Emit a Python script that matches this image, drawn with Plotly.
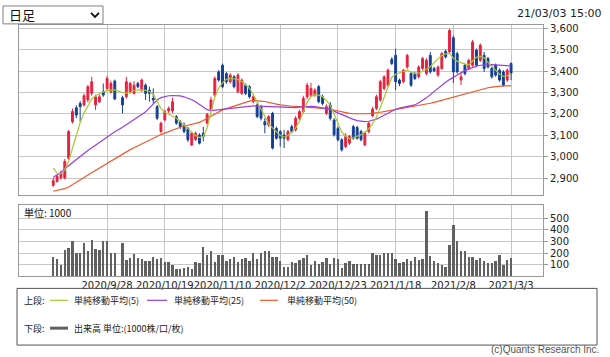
import plotly.graph_objects as go

# ---------------- data ----------------
dates = [
    "2020/9/4", "2020/9/7", "2020/9/8", "2020/9/9", "2020/9/10", "2020/9/11", "2020/9/14", "2020/9/15",
    "2020/9/16", "2020/9/17", "2020/9/18", "2020/9/23", "2020/9/24", "2020/9/25", "2020/9/28", "2020/9/29",
    "2020/9/30", "2020/10/1", "2020/10/2", "2020/10/5", "2020/10/6", "2020/10/7", "2020/10/8", "2020/10/9",
    "2020/10/12", "2020/10/13", "2020/10/14", "2020/10/15", "2020/10/16", "2020/10/19", "2020/10/20", "2020/10/21",
    "2020/10/22", "2020/10/23", "2020/10/26", "2020/10/27", "2020/10/28", "2020/10/29", "2020/10/30", "2020/11/2",
    "2020/11/4", "2020/11/5", "2020/11/6", "2020/11/9", "2020/11/10", "2020/11/11", "2020/11/12", "2020/11/13",
    "2020/11/16", "2020/11/17", "2020/11/18", "2020/11/19", "2020/11/20", "2020/11/24", "2020/11/25", "2020/11/26",
    "2020/11/27", "2020/11/30", "2020/12/1", "2020/12/2", "2020/12/3", "2020/12/4", "2020/12/7", "2020/12/8",
    "2020/12/9", "2020/12/10", "2020/12/11", "2020/12/14", "2020/12/15", "2020/12/16", "2020/12/17", "2020/12/18",
    "2020/12/21", "2020/12/22", "2020/12/23", "2020/12/24", "2020/12/25", "2020/12/28", "2020/12/29", "2020/12/30",
    "2021/1/4", "2021/1/5", "2021/1/6", "2021/1/7", "2021/1/8", "2021/1/12", "2021/1/13", "2021/1/14",
    "2021/1/15", "2021/1/18", "2021/1/19", "2021/1/20", "2021/1/21", "2021/1/22", "2021/1/25", "2021/1/26",
    "2021/1/27", "2021/1/28", "2021/1/29", "2021/2/1", "2021/2/2", "2021/2/3", "2021/2/4", "2021/2/5",
    "2021/2/8", "2021/2/9", "2021/2/10", "2021/2/12", "2021/2/15", "2021/2/16", "2021/2/17", "2021/2/18",
    "2021/2/19", "2021/2/22", "2021/2/24", "2021/2/25", "2021/2/26", "2021/3/1", "2021/3/2", "2021/3/3",
]

open_ = [2868, 2886, 2902, 2902, 2994, 3164, 3229, 3249, 3242, 3265, 3296, 3242, 3257, 3303, 3319, 3303,
         3353, None, 3276, 3280, 3303, 3296, 3342, 3311, 3334, 3311, 3273, 3234, 3118, 3172, 3214, 3214,
         3187, 3164, 3149, 3133, 3056, 3080, 3102, 3110, 3157, 3223, 3288, 3396, 3427, 3388, 3350, 3373,
         3303, 3296, 3334, 3327, 3257, 3242, 3234, 3164, 3149, 3203, 3133, 3118, 3102, 3080, 3141, 3126,
         3180, 3211, 3280, 3288, 3288, 3327, 3280, 3203, 3242, 3172, 3133, 3080, 3048, 3064, 3141, 3137,
         3118, 3056, 3118, 3192, 3226, 3265, 3319, 3334, 3455, 3473, 3358, 3350, 3419, 3388, 3388, 3373,
         3412, 3388, 3473, 3412, 3381, 3412, 3492, 3489, 3555, 3481, 3358, 3427, 3412, 3427, 3497, 3450,
         3473, 3458, 3412, 3427, 3404, 3396, 3358, 3435]
high = [2902, 2916, 2936, 2990, 3126, 3225, 3240, 3260, 3295, 3335, 3373, 3290, 3290, 3342, 3378, 3355,
        3360, None, 3285, 3373, 3350, 3353, 3350, 3365, 3342, 3327, 3319, 3242, 3164, 3220, 3235, 3275,
        3195, 3172, 3160, 3140, 3118, 3118, 3110, 3140, 3205, 3280, 3375, 3404, 3435, 3395, 3390, 3381,
        3390, 3365, 3342, 3334, 3290, 3250, 3242, 3180, 3195, 3210, 3141, 3125, 3126, 3126, 3150, 3190,
        3220, 3285, 3345, 3345, 3320, 3335, 3290, 3245, 3255, 3180, 3141, 3087, 3110, 3102, 3149, 3145,
        3126, 3118, 3165, 3234, 3290, 3358, 3380, 3412, 3465, 3504, 3365, 3410, 3480, 3396, 3396, 3427,
        3466, 3460, 3489, 3420, 3425, 3490, 3500, 3597, 3565, 3490, 3396, 3435, 3458, 3545, 3505, 3528,
        3489, 3466, 3420, 3435, 3412, 3404, 3412, 3440]
low = [2859, 2880, 2895, 2895, 2985, 3155, 3180, 3164, 3235, 3255, 3285, 3218, 3250, 3280, 3310, 3295,
       3265, None, 3203, 3272, 3295, 3290, 3320, 3303, 3265, 3257, 3250, 3172, 3110, 3165, 3205, 3205,
       3150, 3130, 3110, 3070, 3050, 3075, 3058, 3072, 3150, 3215, 3280, 3350, 3320, 3340, 3342, 3319,
       3296, 3288, 3288, 3272, 3250, 3180, 3170, 3110, 3140, 3035, 3080, 3048, 3041, 3072, 3110, 3118,
       3172, 3205, 3270, 3280, 3280, 3250, 3240, 3195, 3170, 3095, 3072, 3025, 3041, 3056, 3080, 3080,
       3072, 3050, 3110, 3185, 3218, 3257, 3310, 3327, 3428, 3311, 3330, 3342, 3410, 3326, 3358, 3365,
       3405, 3380, 3388, 3395, 3373, 3405, 3458, 3480, 3345, 3388, 3335, 3380, 3405, 3420, 3420, 3442,
       3396, 3412, 3365, 3373, 3350, 3327, 3350, 3358]
close = [2889, 2909, 2925, 2979, 3118, 3211, 3195, 3234, 3285, 3327, 3350, 3280, 3280, 3288, 3365, 3342,
         3270, None, 3242, 3350, 3342, 3334, 3327, 3358, 3296, 3296, 3265, 3180, 3157, 3211, 3226, 3257,
         3157, 3141, 3118, 3080, 3110, 3110, 3064, 3095, 3198, 3265, 3365, 3358, 3327, 3350, 3381, 3327,
         3381, 3358, 3296, 3280, 3280, 3188, 3180, 3149, 3188, 3041, 3087, 3087, 3087, 3118, 3118, 3180,
         3211, 3273, 3334, 3319, 3311, 3257, 3249, 3234, 3180, 3103, 3080, 3033, 3095, 3095, 3087, 3087,
         3080, 3110, 3157, 3223, 3280, 3350, 3373, 3404, 3435, 3350, 3342, 3404, 3473, 3334, 3365, 3419,
         3458, 3450, 3396, 3401, 3419, 3481, 3466, 3589, 3396, 3396, 3373, 3388, 3450, 3535, 3427, 3520,
         3412, 3419, 3373, 3381, 3358, 3334, 3404, 3390]

ma5 = [2948, 2925, 2922, 2940, 2980, 3040, 3110, 3160, 3205, 3240, 3270, 3285, 3295, 3302, 3310, 3312,
       3312, None, 3300, 3297, 3300, 3308, 3312, 3313, 3310, 3305, 3292, 3255, 3225, 3208, 3198, 3190,
       3180, 3165, 3150, 3132, 3115, 3100, 3090, 3095, 3135, 3210, 3280, 3320, 3345, 3362, 3366, 3364,
       3360, 3352, 3335, 3320, 3290, 3255, 3220, 3185, 3155, 3135, 3118, 3100, 3093, 3100, 3115, 3135,
       3165, 3210, 3255, 3280, 3290, 3288, 3280, 3262, 3240, 3200, 3160, 3115, 3095, 3085, 3090, 3097,
       3103, 3115, 3130, 3155, 3185, 3230, 3280, 3330, 3370, 3385, 3392, 3398, 3404, 3395, 3388, 3390,
       3398, 3408, 3420, 3440, 3458, 3472, 3480, 3482, 3460, 3445, 3437, 3432, 3428, 3445, 3465, 3468,
       3462, 3440, 3420, 3402, 3385, 3375, 3378, 3388]
ma25 = [2905, 2915, 2928, 2945, 2960, 2975, 2990, 3003, 3016, 3030, 3043, 3055, 3068, 3082, 3095, 3106,
        3117, None, 3138, 3149, 3160, 3172, 3185, 3197, 3210, 3228, 3248, 3265, 3276, 3282, 3285, 3286,
        3286, 3284, 3280, 3274, 3266, 3257, 3245, 3233, 3220, 3216, 3218, 3221, 3223, 3225, 3227, 3228,
        3230, 3232, 3235, 3237, 3238, 3237, 3236, 3235, 3234, 3233, 3232, 3231, 3230, 3230, 3230, 3230,
        3232, 3234, 3235, 3235, 3234, 3232, 3229, 3225, 3220, 3212, 3204, 3196, 3188, 3181, 3175, 3169,
        3165, 3164, 3166, 3170, 3176, 3185, 3195, 3204, 3213, 3222, 3227, 3230, 3233, 3236, 3242, 3252,
        3263, 3275, 3290, 3305, 3320, 3335, 3348, 3360, 3372, 3382, 3392, 3402, 3410, 3417, 3423, 3427,
        3429, 3430, 3430, 3429, 3428, 3427, 3425, 3424]
ma50 = [2840, 2843, 2846, 2852, 2860, 2870, 2880, 2892, 2904, 2916, 2927, 2938, 2948, 2959, 2970, 2981,
        2992, None, 3014, 3025, 3034, 3043, 3052, 3061, 3070, 3079, 3088, 3096, 3104, 3111, 3118, 3126,
        3132, 3138, 3143, 3148, 3153, 3157, 3161, 3170, 3180, 3192, 3202, 3211, 3219, 3225, 3231, 3237,
        3243, 3250, 3255, 3260, 3262, 3262, 3260, 3258, 3255, 3250, 3246, 3242, 3239, 3237, 3236, 3235,
        3234, 3233, 3232, 3231, 3230, 3230, 3228, 3225, 3222, 3218, 3213, 3209, 3206, 3203, 3201, 3200,
        3200, 3201, 3202, 3203, 3205, 3208, 3211, 3214, 3218, 3222, 3225, 3228, 3231, 3234, 3237, 3240,
        3243, 3246, 3250, 3254, 3259, 3264, 3269, 3274, 3279, 3284, 3289, 3294, 3299, 3304, 3308, 3313,
        3318, 3322, 3325, 3328, 3330, 3331, 3331, 3332]

volume = [165, 150, 95, 225, 245, 305, 200, 200, 290, 220, 310, 235, 225, 300, 300, 200,
          200, None, 290, 140, 160, 190, 160, 150, 135, 135, 165, 150, 160, 120, 120, 95,
          65, 65, 70, 85, 65, 120, 115, 250, 185, 215, 120, 185, 180, 135, 150, 165,
          120, 150, 160, 135, 205, 150, 200, 215, 215, 170, 170, 130, 85, 85, 120, 115,
          140, 160, 180, 95, 130, 110, 120, 160, 110, 160, 150, 75, 115, 130, 110, 110,
          110, 110, 110, 205, 180, 185, 200, 205, 200, 150, 115, 120, 150, 135, 170, 140,
          150, 560, 175, 130, 115, 95, 85, 270, 440, 305, 215, 215, 170, 170, 140, 160,
          130, 115, 115, 130, 180, 95, 140, 160]

tick_dates = ["2020/9/28", "2020/10/19", "2020/11/10", "2020/12/2",
              "2020/12/23", "2021/1/18", "2021/2/8", "2021/3/3"]
price_ticks = [2900, 3000, 3100, 3200, 3300, 3400, 3500, 3600]
volume_ticks = [100, 200, 300, 400, 500]

# ---------------- geometry helpers ----------------
W, H = 610, 357
def px(x):
    return x / W
def py(y):
    return 1 - y / H

x_idx = list(range(len(dates)))
tick_idx = [dates.index(d) for d in tick_dates]

valid = [i for i in x_idx if close[i] is not None]

RED = "#e8213f"
BLUE = "#153f96"
GRID = "#c6c6c6"
FRAME = "#9a9a9a"
C5 = "#a6c832"
C25 = "#9a3ee0"
C50 = "#ee5a2a"

fig = go.Figure()

fig.add_trace(go.Candlestick(
    x=[i for i in valid],
    open=[open_[i] for i in valid], high=[high[i] for i in valid],
    low=[low[i] for i in valid], close=[close[i] for i in valid],
    increasing=dict(line=dict(color=RED, width=1), fillcolor=RED),
    decreasing=dict(line=dict(color=BLUE, width=1), fillcolor=BLUE),
    whiskerwidth=0, xaxis="x", yaxis="y", showlegend=False, hoverinfo="skip",
))
for ma, col in ((ma50, C50), (ma25, C25), (ma5, C5)):
    fig.add_trace(go.Scatter(x=x_idx, y=ma, mode="lines", line=dict(color=col, width=1.2),
                             connectgaps=True, xaxis="x", yaxis="y", showlegend=False,
                             hoverinfo="skip"))

fig.add_trace(go.Bar(x=[i for i in valid], y=[volume[i] for i in valid], width=0.62,
                     marker=dict(color="#616161", line=dict(width=0)),
                     xaxis="x2", yaxis="y2", showlegend=False, hoverinfo="skip"))

xr = [-8.9, 127.3]
xdom = [px(19), px(543)]
common_x = dict(range=xr, domain=xdom, tickvals=tick_idx, showgrid=True, gridcolor=GRID,
                gridwidth=1, showline=True, mirror=True, linecolor=FRAME, linewidth=1,
                zeroline=False, fixedrange=True, ticks="", tickangle=0)
common_y = dict(side="right", showgrid=True, gridcolor=GRID, gridwidth=1, showline=True,
                mirror=True, linecolor=FRAME, linewidth=1, zeroline=False, ticks="outside",
                ticklen=4, tickcolor=FRAME, tickfont=dict(family="DejaVu Sans", size=10, color="#222"),
                fixedrange=True)

fig.update_layout(
    width=W, height=H, margin=dict(l=0, r=0, t=0, b=0),
    paper_bgcolor="white", plot_bgcolor="white", bargap=0, hovermode=False,
    xaxis=dict(**common_x, anchor="y", showticklabels=False, rangeslider=dict(visible=False)),
    xaxis2=dict(**common_x, anchor="y2", ticktext=tick_dates, showticklabels=True,
                tickfont=dict(family="DejaVu Sans", size=10, color="#222")),
    yaxis=dict(**common_y, domain=[py(194), py(23)], range=[2823, 3615],
               tickvals=price_ticks, tickformat=",d", anchor="x"),
    yaxis2=dict(**common_y, domain=[py(276), py(204)], range=[0, 613],
                tickvals=volume_ticks, anchor="x2"),
)

shapes = []
annots = []
JP = "Noto Sans CJK JP"

# dropdown box
shapes.append(dict(type="rect", xref="paper", yref="paper", x0=px(3), x1=px(103), y0=py(22), y1=py(4),
                   line=dict(color="#808080", width=1), fillcolor="white", layer="above"))
shapes.append(dict(type="path", xref="paper", yref="paper",
                   path=f"M {px(91)} {py(11)} L {px(95)} {py(15)} L {px(99)} {py(11)}",
                   line=dict(color="#111", width=1.8)))
annots.append(dict(text="日足", x=px(7), y=py(13), xref="paper", yref="paper", xanchor="left",
                   yanchor="middle", showarrow=False, font=dict(family=JP, size=13, color="#111")))
annots.append(dict(text="21/03/03 15:00", x=px(604), y=py(12), xref="paper", yref="paper",
                   xanchor="right", yanchor="middle", showarrow=False,
                   font=dict(family="DejaVu Sans", size=11, color="#222")))
annots.append(dict(text="単位: 1000", x=px(22), y=py(212), xref="paper", yref="paper", xanchor="left",
                   yanchor="middle", showarrow=False, font=dict(family=JP, size=10, color="#111")))

# legend box
shapes.append(dict(type="rect", xref="paper", yref="paper", x0=px(17), x1=px(597), y0=py(345), y1=py(288),
                   line=dict(color="#555", width=1)))
leg_font = dict(family=JP, size=9, color="#222")
annots.append(dict(text="上段:", x=px(22), y=py(300), xref="paper", yref="paper", xanchor="left",
                   yanchor="middle", showarrow=False, font=leg_font))
annots.append(dict(text="下段:", x=px(22), y=py(328), xref="paper", yref="paper", xanchor="left",
                   yanchor="middle", showarrow=False, font=leg_font))
for (x0, x1, tx, label, col) in ((50, 68, 72, "単純移動平均(5)", C5),
                                 (147, 167, 172, "単純移動平均(25)", C25),
                                 (260, 278, 285, "単純移動平均(50)", C50)):
    shapes.append(dict(type="line", xref="paper", yref="paper", x0=px(x0), x1=px(x1), y0=py(300), y1=py(300),
                       line=dict(color=col, width=1.2)))
    annots.append(dict(text=label, x=px(tx), y=py(300), xref="paper", yref="paper", xanchor="left",
                       yanchor="middle", showarrow=False, font=leg_font))
shapes.append(dict(type="line", xref="paper", yref="paper", x0=px(50), x1=px(68), y0=py(328), y1=py(328),
                   line=dict(color="#616161", width=3)))
annots.append(dict(text="出来高 単位:(1000株/口/枚)", x=px(72), y=py(328), xref="paper", yref="paper",
                   xanchor="left", yanchor="middle", showarrow=False, font=leg_font))
annots.append(dict(text="(c)Quants Research Inc.", x=px(601), y=py(349), xref="paper", yref="paper",
                   xanchor="right", yanchor="middle", showarrow=False,
                   font=dict(family="Liberation Sans", size=10, color="#555")))

fig.update_layout(shapes=shapes, annotations=annots)
fig.write_html("out.html", config={"displayModeBar": False, "staticPlot": True},
               post_script="document.body.style.margin='0';document.body.style.overflow='hidden';")
